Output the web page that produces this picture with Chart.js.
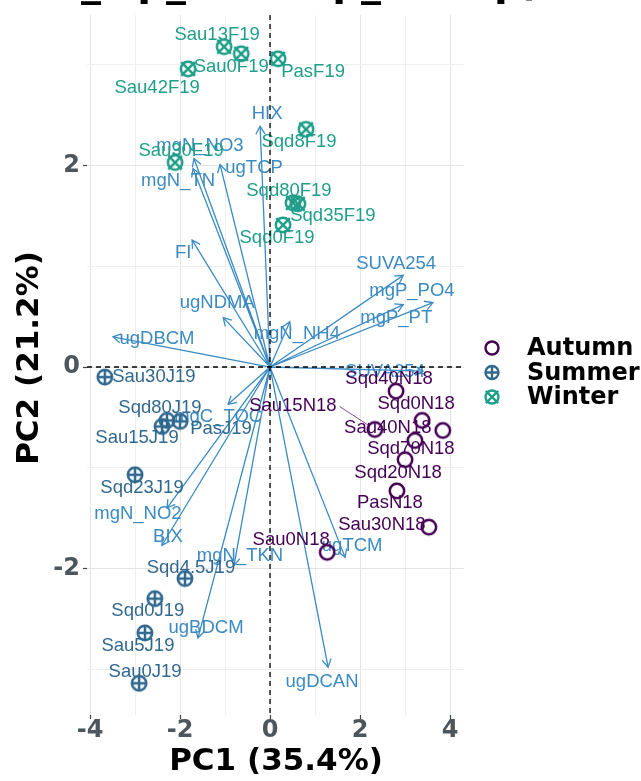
<!DOCTYPE html>
<html><head><meta charset="utf-8">
<script src="https://cdn.jsdelivr.net/npm/chart.js@4.4.1/dist/chart.umd.min.js"></script>
<style>html,body{margin:0;padding:0;background:#fff;overflow:hidden}canvas{display:block}</style>
</head><body>
<canvas id="c" width="641" height="781"></canvas>
<script>
// ---------------- DATA ----------------
const groups = ['Autumn', 'Summer', 'Winter'];

const autumnNames = ['Sqd40N18','Sqd0N18','Sau15N18','Sau40N18','Sqd70N18','Sqd20N18','PasN18','Sau30N18','Sau0N18'];
const autumnPC1   = [2.80, 3.38, 2.33, 3.84, 3.22, 3.00, 2.82, 3.53, 1.27];
const autumnPC2   = [-0.24, -0.53, -0.62, -0.63, -0.73, -0.92, -1.23, -1.59, -1.84];

const summerNames = ['Sau30J19','Sqd80J19','Sau15J19','PasJ19','Sqd23J19','Sqd4.5J19','Sqd0J19','Sau5J19','Sau0J19'];
const summerPC1   = [-3.67, -2.29, -2.40, -2.00, -3.00, -1.89, -2.56, -2.78, -2.91];
const summerPC2   = [-0.10, -0.53, -0.59, -0.54, -1.07, -2.10, -2.30, -2.64, -3.14];

const winterNames = ['Sau13F19','Sau0F19','PasF19','Sau42F19','Sqd8F19','Sau30F19','Sqd80F19','Sqd35F19','Sqd0F19'];
const winterPC1   = [-1.02, -0.64, 0.18, -1.82, 0.80, -2.11, 0.51, 0.62, 0.29];
const winterPC2   = [3.18, 3.11, 3.06, 2.96, 2.36, 2.03, 1.63, 1.62, 1.41];

const loadingNames = ['HIX','mgN_NO3','mgN_TN','ugTCP','FI','ugNDMA','mgN_NH4','SUVA254','mgP_PO4','mgP_PT','SUVA254','ugDBCM','mgC_TOC','mgN_NO2','BIX','mgN_TKN','ugBDCM','ugDCAN','ugTCM'];
const loadingPC1   = [-0.22, -1.69, -1.71, -1.11, -1.73, -1.04, 0.44, 2.96, 3.62, 2.96, 3.40, -3.49, -0.93, -2.29, -2.40, -0.80, -1.60, 1.29, 1.67];
const loadingPC2   = [2.39, 2.07, 1.97, 2.01, 1.26, 0.49, 0.45, 0.91, 0.64, 0.62, -0.04, 0.30, -0.37, -1.40, -1.77, -1.97, -2.69, -2.98, -1.89];

const xTicks = [-4, -3, -2, -1, 0, 1, 2, 3, 4];
const yTicks = [-3, -2, -1, 0, 1, 2, 3];
const xTitle = 'PC1 (35.4%)';
const yTitle = 'PC2 (21.2%)';

// ---------------- STYLE / LABEL PLACEMENT ----------------
const groupColors = {Autumn: '#440154', Summer: '#31688E', Winter: '#1F9E89'};
const groupShapes = {Autumn: 'circle', Summer: 'plus', Winter: 'cross'};
const arrowColor = '#3B8BC2';

// pixel nudges of text labels (ggrepel-like placement)
const autumnNudge = [[-7,-12],[-6,-16],[-82,-24],[-55,-3],[-4,8],[-7,13],[-7,12],[-47,-2],[-36,-12]];
const summerNudge = [[49,0],[-7,-12],[-25,11],[41,8],[7,13],[6,-11],[-7,12],[-7,13],[6,-11]];
const winterNudge = [[-7,-12],[-10,13],[35,13],[-31,19],[-7,13],[6,-12],[-4,-12],[35,12],[-6,13]];
const loadingNudge = [[7,-12],[6,-13],[-15,12],[34,3],[-9,13],[-6,-15],[7,12],[-7,-11],[-21,-12],[-7,13],[-38,1],[44,2],[-10,13],[-29,6],[6,-8],[6,-10],[8,-10],[-6,15],[7,-11]];
const leaderLabels = ['Sau15N18'];

// ---------------- MARKERS ----------------
function drawShape(g, shape, x, y, r, color, lw) {
  g.save();
  g.strokeStyle = color; g.lineWidth = lw;
  g.beginPath(); g.arc(x, y, r, 0, 2 * Math.PI); g.stroke();
  g.beginPath();
  if (shape === 'plus') { g.moveTo(x - r, y); g.lineTo(x + r, y); g.moveTo(x, y - r); g.lineTo(x, y + r); }
  if (shape === 'cross') { const d = r * 0.95; g.moveTo(x - d, y - d); g.lineTo(x + d, y + d); g.moveTo(x + d, y - d); g.lineTo(x - d, y + d); }
  g.stroke();
  g.restore();
}
function markerImage(group) {
  const s = 24, c = document.createElement('canvas');
  c.width = s; c.height = s;
  drawShape(c.getContext('2d'), groupShapes[group], s / 2, s / 2, 7.2, groupColors[group], 2.5);
  return c;
}

function pts(xs, ys) { return xs.map((v, i) => ({x: v, y: ys[i]})); }
const arrowData = [];
loadingPC1.forEach((v, i) => { arrowData.push({x: 0, y: 0}, {x: v, y: loadingPC2[i]}, {x: null, y: null}); });

const pointSets = [
  {name: 'Autumn', names: autumnNames, xs: autumnPC1, ys: autumnPC2, nudge: autumnNudge},
  {name: 'Summer', names: summerNames, xs: summerPC1, ys: summerPC2, nudge: summerNudge},
  {name: 'Winter', names: winterNames, xs: winterPC1, ys: winterPC2, nudge: winterNudge},
];

const datasets = pointSets.map(p => ({
  label: p.name, data: pts(p.xs, p.ys), pointStyle: markerImage(p.name),
  pointRadius: 8, pointHoverRadius: 8, showLine: false
}));
datasets.push({label: 'loadings', data: arrowData, showLine: true, spanGaps: false,
  borderColor: arrowColor, borderWidth: 1.3, pointRadius: 0, pointHoverRadius: 0, clip: false});
const ARROW_INDEX = 3;

const labelFont = '18.5px "Liberation Sans", Arial, sans-serif';
const boldFont = (s) => 'bold ' + s + 'px "DejaVu Sans", sans-serif';

const biplot = {
  id: 'biplot',
  afterDatasetDraw(chart, args) {
    if (args.index !== ARROW_INDEX) return;
    const {ctx, scales: {x, y}} = chart;
    const ox = x.getPixelForValue(0), oy = y.getPixelForValue(0);
    ctx.save();
    ctx.strokeStyle = arrowColor; ctx.lineWidth = 1.3;
    loadingPC1.forEach((v, i) => {
      const tx = x.getPixelForValue(v), ty = y.getPixelForValue(loadingPC2[i]);
      const a = Math.atan2(ty - oy, tx - ox), L = 9, t = Math.PI / 6;
      ctx.beginPath();
      ctx.moveTo(tx - L * Math.cos(a - t), ty - L * Math.sin(a - t));
      ctx.lineTo(tx, ty);
      ctx.lineTo(tx - L * Math.cos(a + t), ty - L * Math.sin(a + t));
      ctx.stroke();
    });
    ctx.font = labelFont; ctx.fillStyle = arrowColor; ctx.textAlign = 'center'; ctx.textBaseline = 'middle';
    loadingNames.forEach((n, i) => {
      const tx = x.getPixelForValue(loadingPC1[i]), ty = y.getPixelForValue(loadingPC2[i]);
      ctx.fillText(n, tx + loadingNudge[i][0], ty + loadingNudge[i][1]);
    });
    ctx.restore();
  },
  afterDatasetsDraw(chart) {
    const {ctx, chartArea: a, scales: {x, y}} = chart;
    ctx.save();
    ctx.font = labelFont; ctx.textAlign = 'center'; ctx.textBaseline = 'middle';
    pointSets.forEach(p => {
      ctx.fillStyle = groupColors[p.name]; ctx.strokeStyle = groupColors[p.name];
      p.names.forEach((n, i) => {
        const px = x.getPixelForValue(p.xs[i]), py = y.getPixelForValue(p.ys[i]);
        const lx = px + p.nudge[i][0], ly = py + p.nudge[i][1];
        ctx.fillText(n, lx, ly);
        if (leaderLabels.includes(n)) {
          const w = ctx.measureText(n).width / 2 + 3;
          const sx = lx + w, sy = ly + 1;
          const d = Math.hypot(px - sx, py - sy), k = (d - 7) / d;
          ctx.lineWidth = 0.7;
          ctx.beginPath(); ctx.moveTo(sx, sy); ctx.lineTo(sx + (px - sx) * k, sy + (py - sy) * k); ctx.stroke();
        }
      });
    });
    // dashed zero lines
    const x0 = x.getPixelForValue(0), y0 = y.getPixelForValue(0);
    ctx.strokeStyle = '#000'; ctx.lineWidth = 1.3; ctx.setLineDash([5, 4]);
    ctx.beginPath();
    ctx.moveTo(x0, a.top); ctx.lineTo(x0, a.bottom);
    ctx.moveTo(a.left, y0); ctx.lineTo(a.right, y0);
    ctx.stroke();
    ctx.restore();
  },
  afterDraw(chart) {
    const {ctx} = chart;
    ctx.save();
    ctx.fillStyle = '#000'; ctx.textBaseline = 'middle'; ctx.textAlign = 'center';
    ctx.font = boldFont(31);
    ctx.fillText(xTitle, 276, 762);
    ctx.save(); ctx.translate(30, 358); ctx.rotate(-Math.PI / 2); ctx.fillText(yTitle, 0, 0); ctx.restore();
    // legend
    ctx.font = boldFont(24); ctx.textAlign = 'left';
    groups.forEach((g, i) => {
      const yy = 348 + i * 24.5;
      drawShape(ctx, groupShapes[g], 492, yy, 6.5, groupColors[g], 2.4);
      ctx.fillStyle = '#000';
      ctx.fillText(g, 527, yy + 1);
    });
    // plot title, cut off by the top edge of the page
    ctx.font = boldFont(40); ctx.textAlign = 'right'; ctx.textBaseline = 'alphabetic';
    [['PCA_', 101], ['Dup_', 186], ['DOMap_', 381], ['Grp)', 541]].forEach(([t, xr]) => ctx.fillText(t, xr, -5));
    ctx.restore();
  }
};

const gridColor = (ctx) => (ctx.tick && ctx.tick.value % 2 === 0) ? '#e4e4e4' : '#efefef';
const tickColor = (ctx) => (ctx.tick && ctx.tick.value % 2 === 0) ? '#444' : 'rgba(0,0,0,0)';
const tickLabel = (v) => (v % 2 === 0 ? String(v) : '');

new Chart(document.getElementById('c'), {
  type: 'scatter',
  data: {datasets},
  options: {
    responsive: false, devicePixelRatio: 1, animation: false,
    layout: {padding: {left: 0, right: 177, top: 13, bottom: 0}},
    plugins: {legend: {display: false}, tooltip: {enabled: false}},
    events: [],
    scales: {
      x: {
        type: 'linear', min: -4.067, max: 4.311,
        afterBuildTicks: s => { s.ticks = xTicks.map(v => ({value: v})); },
        afterFit: s => { s.height = 66; },
        border: {display: false},
        grid: {color: gridColor, lineWidth: 1, drawTicks: true, tickLength: 4, tickColor: tickColor, tickWidth: 1.2},
        ticks: {callback: tickLabel, autoSkip: false, maxRotation: 0, padding: 0,
          color: '#4B575C', font: {family: 'DejaVu Sans', weight: 'bold', size: 24, lineHeight: 1}}
      },
      y: {
        type: 'linear', min: -3.455, max: 3.495,
        afterBuildTicks: s => { s.ticks = yTicks.map(v => ({value: v})); },
        afterFit: s => { s.width = 87; },
        border: {display: false},
        grid: {color: gridColor, lineWidth: 1, drawTicks: true, tickLength: 4, tickColor: tickColor, tickWidth: 1.2},
        ticks: {callback: tickLabel, autoSkip: false, padding: 3,
          color: '#4B575C', font: {family: 'DejaVu Sans', weight: 'bold', size: 24, lineHeight: 1}}
      }
    }
  },
  plugins: [biplot]
});
</script>
</body></html>
